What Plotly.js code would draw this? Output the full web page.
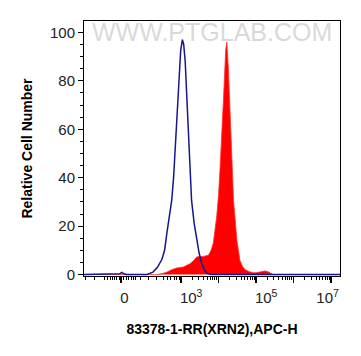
<!DOCTYPE html>
<html>
<head>
<meta charset="utf-8">
<script src="https://cdn.plot.ly/plotly-3.0.1.min.js"></script>
<style>html,body{margin:0;padding:0;background:#fff;}#chart{width:361px;height:356px;}</style>
</head>
<body>
<div id="chart"></div>
<script>
// x values are channel positions in display decades (biexponential scale), y = relative cell number
var controlX = [0.41, 1.30, 1.36, 1.42, 1.48, 1.55, 2.09, 2.25, 2.37, 2.49, 2.56, 2.62, 2.69, 2.75, 2.80, 2.84, 2.89, 2.93, 2.97, 2.99, 3.035, 3.07, 3.11, 3.16, 3.20, 3.24, 3.28, 3.35, 3.42, 3.48, 3.55, 3.62, 3.69, 3.80, 7.24];
var controlY = [0, 0, 0.3, 0.9, 0.3, 0, 0, 1, 3, 6.3, 10, 17, 24, 30.6, 40, 51, 62, 72, 84, 92.6, 97, 95, 88, 72, 58, 44, 30.6, 21, 14, 9, 4.6, 2, 0.5, 0, 0];

var sampleX = [0.41, 2.35, 2.50, 2.62, 2.75, 2.88, 3.06, 3.24, 3.35, 3.42, 3.60, 3.73, 3.80, 3.86, 3.95, 4.00, 4.04, 4.09, 4.13, 4.19, 4.22, 4.26, 4.29, 4.33, 4.40, 4.49, 4.57, 4.64, 4.71, 4.82, 4.93, 5.02, 5.10, 5.24, 5.32, 5.37, 5.45, 7.24];
var sampleY = [0, 0, 0.4, 1, 2, 2.7, 3.1, 4.5, 6, 7.3, 7.5, 8, 10, 13, 24, 33, 44, 58, 72, 92.6, 96, 85.7, 72, 58, 30.6, 14, 5.9, 3.3, 2, 1.2, 0.7, 0.8, 1.1, 1.5, 1.2, 0.7, 0, 0];

// axis decorations
var majorTickVals = [1.4, 3, 4, 5, 6, 7];
var labelVals = [1.49, 3.27, 5.27, 6.91];
var labelText = ['0', '10<sup>3</sup>', '10<sup>5</sup>', '10<sup>7</sup>'];
var linearMinorTicks = [0.44, 0.68, 0.97, 1.045, 1.107, 1.17, 1.22, 1.285, 1.355, 1.46, 1.55, 1.61, 1.667, 1.73, 1.79, 1.91, 2.13, 2.35, 2.53, 2.645, 2.73, 2.82, 2.885, 2.95];
var yTickVals = [0, 20, 40, 60, 80, 100];

var minorVals = linearMinorTicks.slice();
for (var d = 3; d <= 6; d++) {
  for (var k = 2; k <= 9; k++) minorVals.push(d + Math.log10(k));
}

var font = 'Arial, "Liberation Sans", sans-serif';
var xRange = [0.41, 7.24];

var data = [
  {x: sampleX, y: sampleY, type: 'scatter', mode: 'lines', fill: 'tozeroy',
   fillcolor: '#FF0000', line: {color: '#FF3030', width: 0.8}, hoverinfo: 'skip', showlegend: false},
  {x: controlX, y: controlY, xaxis: 'x2', type: 'scatter', mode: 'lines',
   line: {color: '#16168E', width: 1.5}, hoverinfo: 'skip', showlegend: false}
];

var layout = {
  width: 361, height: 356,
  margin: {l: 84, r: 21, t: 21, b: 80},
  paper_bgcolor: '#fff', plot_bgcolor: '#fff',
  showlegend: false,
  xaxis: {
    range: xRange, showgrid: false, zeroline: false,
    showline: true, linecolor: '#000', linewidth: 1, mirror: true,
    ticks: 'outside', ticklen: 6, tickwidth: 1.5, tickcolor: '#000',
    tickmode: 'array', tickvals: majorTickVals, showticklabels: false,
    minor: {tickmode: 'array', tickvals: minorVals, ticks: 'outside', ticklen: 3, tickwidth: 1, tickcolor: '#000', showgrid: false},
    title: {text: '<b>83378-1-RR(XRN2),APC-H</b>', font: {family: font, size: 14, color: '#000'}, standoff: 42},
    automargin: false, fixedrange: true
  },
  xaxis2: {
    overlaying: 'x', side: 'bottom', anchor: 'y',
    range: xRange, showgrid: false, zeroline: false, showline: false,
    ticks: '', tickmode: 'array', tickvals: labelVals, ticktext: labelText,
    ticklabelstandoff: 11,
    tickfont: {family: font, size: 15, color: '#222'},
    automargin: false, fixedrange: true
  },
  yaxis: {
    range: [-0.6, 104.7], showgrid: false, zeroline: false,
    showline: true, linecolor: '#000', linewidth: 1, mirror: true,
    ticks: 'outside', ticklen: 5, tickwidth: 1, tickcolor: '#000',
    tickmode: 'array', tickvals: yTickVals,
    tickfont: {family: font, size: 15, color: '#222'},
    minor: {tickmode: 'linear', dtick: 5, ticks: 'outside', ticklen: 3, tickwidth: 1, tickcolor: '#000', showgrid: false},
    title: {text: '<b>Relative Cell Number</b>', font: {family: font, size: 14, color: '#000'}, standoff: 14},
    automargin: false, fixedrange: true
  },
  annotations: [{
    text: 'WWW.PTGLAB.COM', xref: 'paper', yref: 'paper', x: 0.5, y: 0.955,
    xanchor: 'center', yanchor: 'middle', showarrow: false,
    font: {family: font, size: 25, color: 'rgba(205,205,205,0.75)'}
  }]
};

Plotly.newPlot('chart', data, layout, {displayModeBar: false, staticPlot: true});
</script>
</body>
</html>
